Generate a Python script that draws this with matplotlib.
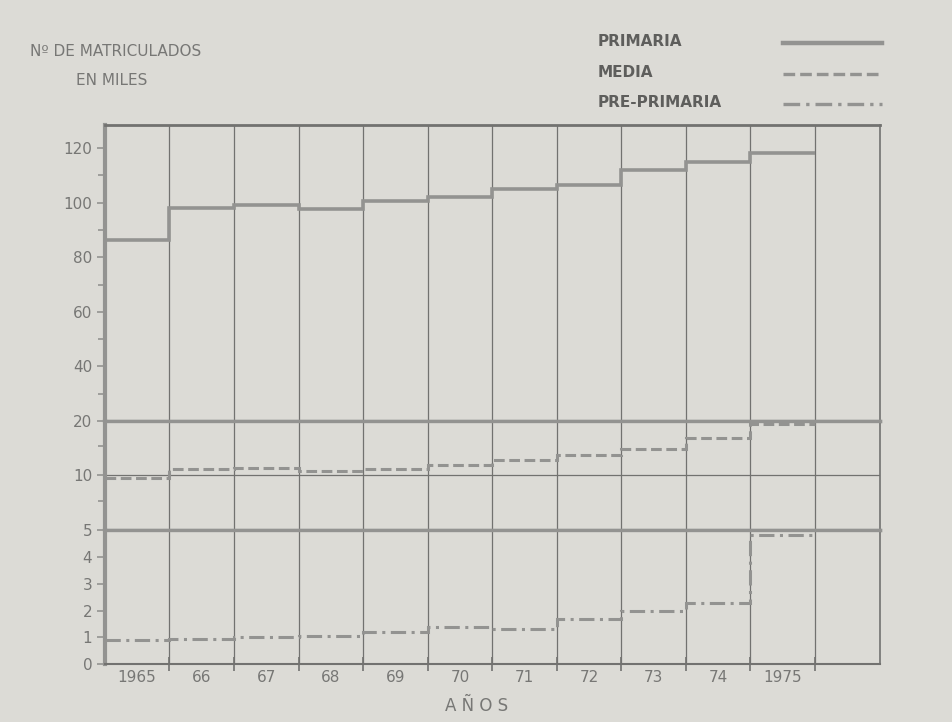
#!/usr/bin/env python3
"""Matriculados (miles) 1965-1975: primaria, media y pre-primaria, eje Y partido."""

import matplotlib.pyplot as plt
import numpy as np
from matplotlib.lines import Line2D
from matplotlib.ticker import FixedLocator, NullFormatter

YEAR_LABELS = ["1965", "66", "67", "68", "69", "70", "71", "72", "73", "74", "1975"]
PRIMARIA = [86.4, 97.9, 99.1, 97.6, 100.5, 102.1, 105.1, 106.4, 111.8, 115.0, 118.1]
MEDIA = [9.7, 10.8, 11.0, 10.6, 10.9, 11.4, 12.1, 12.9, 14.0, 16.1, 19.3]
PRE_PRIMARIA = [0.90, 0.94, 1.00, 1.05, 1.21, 1.40, 1.32, 1.69, 1.98, 2.29, 4.82]

BG = "#dcdbd6"
GRID = "#727270"
LINE = "#939391"
TXT = "#777775"
STYLE_MEDIA = (0, (3.5, 1.5))
STYLE_PRE = (0, (5, 1.8, 1, 1.8))

n_cols = len(YEAR_LABELS) + 1
edges = np.arange(len(YEAR_LABELS) + 1)

fig = plt.figure(figsize=(9.53, 7.22), dpi=100, facecolor=BG)
left, width = 0.110, 0.813
ax_top = fig.add_axes([left, 0.417, width, 0.410])
ax_mid = fig.add_axes([left, 0.266, width, 0.151])
ax_bot = fig.add_axes([left, 0.080, width, 0.186])

for ax in (ax_top, ax_mid, ax_bot):
    ax.set_facecolor(BG)
    ax.set_xlim(0, n_cols)
    ax.set_xticks(np.arange(1, n_cols))
    ax.grid(axis="x", color=GRID, lw=0.9)
    ax.set_axisbelow(True)
    ax.tick_params(axis="y", direction="out", length=6, width=1.2,
                   color=LINE, labelcolor=TXT, labelsize=11, pad=3)
    ax.tick_params(axis="y", which="minor", direction="out", length=5,
                   width=1.2, color=LINE)
    for side in ("top", "bottom"):
        ax.spines[side].set_color(LINE)
        ax.spines[side].set_linewidth(2.4)
    ax.spines["left"].set_color(LINE)
    ax.spines["left"].set_linewidth(3)
    ax.spines["right"].set_color(GRID)
    ax.spines["right"].set_linewidth(1.2)

for ax in (ax_top, ax_mid):
    ax.tick_params(axis="x", length=0, labelbottom=False)

# upper block: primaria
ax_top.stairs(PRIMARIA, edges, baseline=None, color=LINE, lw=2.6)
ax_top.set_ylim(20, 128.5)
ax_top.set_yticks([20, 40, 60, 80, 100, 120])
ax_top.yaxis.set_minor_locator(FixedLocator([30, 50, 70, 90, 110]))
ax_top.spines["top"].set_linewidth(2)
ax_top.spines["top"].set_color(GRID)

# middle block: media (escala logaritmica)
ax_mid.set_yscale("log")
ax_mid.stairs(MEDIA, edges, baseline=None, color=LINE, lw=2.2, linestyle=STYLE_MEDIA)
ax_mid.set_ylim(5, 20)
ax_mid.yaxis.set_major_locator(FixedLocator([10]))
ax_mid.yaxis.set_major_formatter(plt.FuncFormatter(lambda v, _: f"{v:.0f}"))
ax_mid.yaxis.set_minor_locator(FixedLocator([7.2, 14.5]))
ax_mid.yaxis.set_minor_formatter(NullFormatter())
ax_mid.axhline(10, color=GRID, lw=0.9, zorder=0.5)

# lower block: pre-primaria
ax_bot.stairs(PRE_PRIMARIA, edges, baseline=None, color=LINE, lw=2.2, linestyle=STYLE_PRE)
ax_bot.set_ylim(0, 5)
ax_bot.set_yticks([0, 1, 2, 3, 4, 5])
ax_bot.set_xticks(np.arange(1, n_cols))
ax_bot.set_xticklabels([])
ax_bot.set_xticks(edges[:-1] + 0.5, minor=True)
ax_bot.set_xticklabels(YEAR_LABELS, minor=True)
ax_bot.tick_params(axis="x", which="major", direction="inout", length=10,
                   width=1.2, color=GRID)
ax_bot.tick_params(axis="x", which="minor", length=0, labelsize=11,
                   labelcolor=TXT, pad=4)
ax_bot.spines["bottom"].set_color(GRID)
ax_bot.spines["bottom"].set_linewidth(1.5)

fig.text(0.5, 0.022, "A Ñ O S", ha="center", va="center", fontsize=12, color=TXT)

# titulo eje Y
fig.text(0.032, 0.929, "Nº DE MATRICULADOS", ha="left", va="center",
         fontsize=11, color=TXT)
fig.text(0.080, 0.889, "EN MILES", ha="left", va="center",
         fontsize=11, color=TXT)

# leyenda
legend_rows = [("PRIMARIA", "-", 3.2), ("MEDIA", STYLE_MEDIA, 2.4),
               ("PRE-PRIMARIA", STYLE_PRE, 2.4)]
for i, (label, ls, lw) in enumerate(legend_rows):
    y = 0.942 - i * 0.042
    fig.text(0.627, y, label, ha="left", va="center", fontsize=11,
             color="#5e5e5c", fontweight="bold")
    fig.add_artist(Line2D([0.822, 0.925], [y - 0.002, y - 0.002],
                          transform=fig.transFigure, color=LINE, lw=lw,
                          linestyle=ls))

fig.savefig("out.png", dpi=100, facecolor=BG)
